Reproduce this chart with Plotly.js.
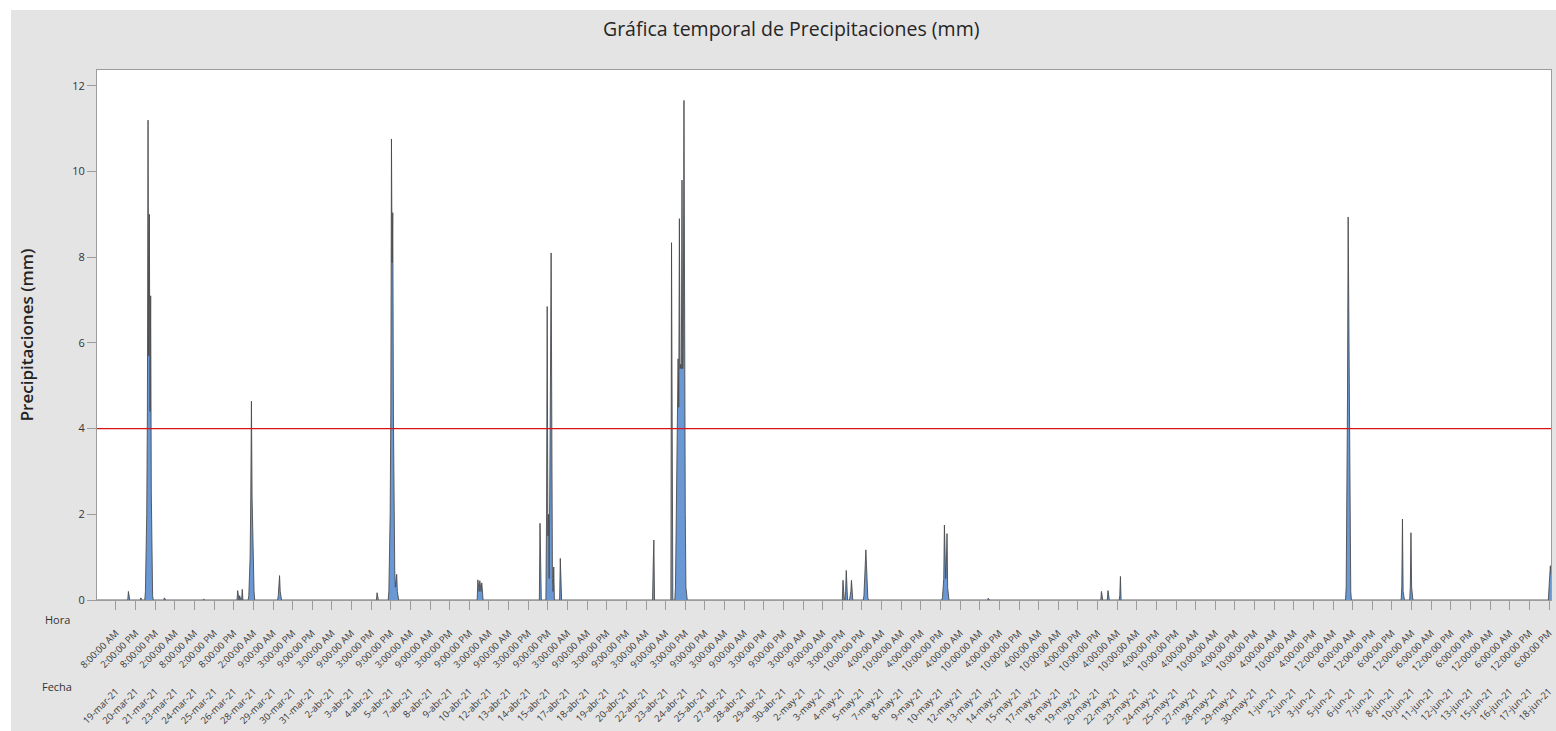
<!DOCTYPE html>
<html>
<head>
<meta charset="utf-8">
<script src="https://cdn.plot.ly/plotly-3.0.1.min.js"></script>
<style>
  html, body { margin: 0; padding: 0; background: #ffffff; width: 1556px; height: 731px; overflow: hidden; }
  #chart { position: absolute; left: 11px; top: 10px; width: 1545px; height: 721px; }
</style>
</head>
<body>
<div id="chart"></div>
<script>
const titulo = "Gráfica temporal de Precipitaciones (mm)";
const ejeY = "Precipitaciones (mm)";
const umbral = 4;
const totalObs = 2223;
const pasoTicks = 30; // one tick label every 30 observations

// non-zero hourly readings (observation index, mm); every other hour is 0
const obsIdx = [49, 68,
  75, 76, 77, 78, 79, 80, 81, 82, 83, 84, 85, 86,
  104, 164, 216, 219, 223,
  233, 234, 235, 236, 237, 238, 239, 240, 241,
  278, 279, 280, 281,
  429,
  447, 448, 449, 450, 451, 452, 453, 454, 455, 456, 457, 458, 459, 460,
  583, 584, 585, 586, 587, 588, 589, 590,
  678,
  688, 689, 690, 691, 692, 693, 694, 695, 696, 697, 698, 699,
  709,
  851, 852,
  879,
  885, 886, 887, 888, 889, 890, 891, 892, 893, 894, 895, 896, 897, 898, 899, 900, 901,
  1141, 1142, 1145, 1146, 1147, 1152, 1153, 1154,
  1173, 1174, 1175, 1176, 1177, 1178, 1179,
  1293, 1294, 1295, 1296, 1297, 1298, 1299, 1300, 1301, 1302,
  1363, 1536, 1546, 1564, 1565,
  1910, 1911, 1912, 1913, 1914, 1915, 1916, 1917,
  1952,
  1995, 1996, 1997,
  2008, 2009, 2010,
  2220, 2221, 2222, 2223];
const precipMm = [0.20, 0.05,
  0.2, 0.8, 2.0, 4.4, 11.2, 5.7, 9.0, 4.4, 7.1, 2.5, 0.6, 0.1,
  0.05, 0.02, 0.22, 0.1, 0.25,
  0.1, 0.4, 1.0, 2.4, 4.64, 2.4, 1.5, 0.6, 0.2,
  0.1, 0.3, 0.57, 0.2,
  0.17,
  0.2, 0.9, 2.0, 4.3, 10.76, 7.87, 9.04, 4.27, 2.0, 0.7, 0.3, 0.55, 0.6, 0.2,
  0.47, 0.3, 0.2, 0.45, 0.35, 0.2, 0.4, 0.1,
  1.79,
  2.0, 6.85, 1.5, 2.0, 0.5, 2.0, 5.2, 8.1, 2.0, 0.5, 0.2, 0.77,
  0.97,
  0.82, 1.40,
  8.34,
  0.3, 1.5, 3.0, 4.0, 5.63, 4.5, 8.9, 5.4, 5.5, 5.4, 9.8, 5.4, 6.0, 11.66, 5.4, 2.0, 0.3,
  0.46, 0.1, 0.2, 0.69, 0.1, 0.1, 0.2, 0.46,
  0.1, 0.4, 0.8, 1.17, 0.8, 0.3, 0.05,
  0.05, 0.29, 0.5, 1.75, 0.83, 0.5, 0.83, 1.55, 0.29, 0.05,
  0.04, 0.2, 0.22, 0.1, 0.55,
  0.3, 2.0, 4.69, 8.94, 7.07, 4.69, 1.5, 0.2,
  0.01,
  0.3, 1.89, 0.2,
  0.3, 1.57, 0.3,
  0.3, 0.8, 0.8, 0.6];

const hora = [
  "8:00:00 AM","2:00:00 PM","8:00:00 PM","2:00:00 AM","8:00:00 AM","2:00:00 PM","8:00:00 PM","2:00:00 AM",
  "9:00:00 AM","3:00:00 PM","9:00:00 PM","3:00:00 AM","9:00:00 AM","3:00:00 PM","9:00:00 PM","3:00:00 AM",
  "9:00:00 AM","3:00:00 PM","9:00:00 PM","3:00:00 AM","9:00:00 AM","3:00:00 PM","9:00:00 PM","3:00:00 AM",
  "9:00:00 AM","3:00:00 PM","9:00:00 PM","3:00:00 AM","9:00:00 AM","3:00:00 PM","9:00:00 PM","3:00:00 AM",
  "9:00:00 AM","3:00:00 PM","9:00:00 PM","3:00:00 AM","9:00:00 AM","3:00:00 PM",
  "10:00:00 PM","4:00:00 AM","10:00:00 AM","4:00:00 PM","10:00:00 PM","4:00:00 AM","10:00:00 AM","4:00:00 PM",
  "10:00:00 PM","4:00:00 AM","10:00:00 AM","4:00:00 PM","10:00:00 PM","4:00:00 AM","10:00:00 AM","4:00:00 PM",
  "10:00:00 PM","4:00:00 AM","10:00:00 AM","4:00:00 PM","10:00:00 PM","4:00:00 AM","10:00:00 AM","4:00:00 PM",
  "12:00:00 AM","6:00:00 AM","12:00:00 PM","6:00:00 PM","12:00:00 AM","6:00:00 AM","12:00:00 PM","6:00:00 PM",
  "12:00:00 AM","6:00:00 AM","12:00:00 PM","6:00:00 PM"];
const fecha = [
  "19-mar-21","20-mar-21","21-mar-21","23-mar-21","24-mar-21","25-mar-21","26-mar-21","28-mar-21","29-mar-21","30-mar-21","31-mar-21",
  "2-abr-21","3-abr-21","4-abr-21","5-abr-21","7-abr-21","8-abr-21","9-abr-21","10-abr-21","12-abr-21","13-abr-21","14-abr-21","15-abr-21",
  "17-abr-21","18-abr-21","19-abr-21","20-abr-21","22-abr-21","23-abr-21","24-abr-21","25-abr-21","27-abr-21","28-abr-21","29-abr-21","30-abr-21",
  "2-may-21","3-may-21","4-may-21","5-may-21","7-may-21","8-may-21","9-may-21","10-may-21","12-may-21","13-may-21","14-may-21","15-may-21",
  "17-may-21","18-may-21","19-may-21","20-may-21","22-may-21","23-may-21","24-may-21","25-may-21","27-may-21","28-may-21","29-may-21","30-may-21",
  "1-jun-21","2-jun-21","3-jun-21","5-jun-21","6-jun-21","7-jun-21","8-jun-21","10-jun-21","11-jun-21","12-jun-21","13-jun-21",
  "15-jun-21","16-jun-21","17-jun-21","18-jun-21"];

// ---- build the hourly series ----
const xs = [], ys = [];
const lookup = {};
obsIdx.forEach((o, k) => { lookup[o] = precipMm[k]; });
for (let i = 1; i <= totalObs; i++) { xs.push(i); ys.push(lookup[i] !== undefined ? lookup[i] : 0); }
const tickPos = hora.map((_, k) => pasoTicks * (k + 1));
const xRange = [1, totalObs];

const gris = '#9c9c9c';
const fuente = '"Open Sans", "Noto Sans", sans-serif';
const trazas = [
  {
    x: xs, y: ys, type: 'scatter', mode: 'lines',
    fill: 'tozeroy', fillcolor: 'rgb(106,152,212)',
    line: { color: 'rgba(70,70,70,0.85)', width: 1 },
    hoverinfo: 'x+y', showlegend: false
  },
  {
    x: xRange, y: [umbral, umbral], xaxis: 'x2', yaxis: 'y',
    type: 'scatter', mode: 'lines',
    line: { color: 'rgb(214,20,20)', width: 1.3 },
    hoverinfo: 'skip', showlegend: false
  }
];

const layout = {
  width: 1545, height: 721,
  paper_bgcolor: '#e4e4e4', plot_bgcolor: '#ffffff',
  margin: { l: 86, r: 5, t: 60, b: 55 },
  font: { family: fuente, color: '#333333' },
  title: {
    text: titulo, xref: 'container', yref: 'container',
    x: 0.505, xanchor: 'center', y: 0.974, yanchor: 'middle',
    font: { size: 19.5, color: '#262626', family: fuente }
  },
  xaxis: {
    range: xRange, showgrid: false, zeroline: false,
    showline: true, linecolor: gris, linewidth: 1, mirror: true,
    ticks: 'outside', ticklen: 9, tickcolor: gris, tickwidth: 1,
    tickmode: 'array', tickvals: tickPos, ticktext: hora,
    tickangle: -45, ticklabelstandoff: 14, ticklabeloverflow: 'allow',
    tickfont: { size: 9.5, color: '#3a3a3a' },
    anchor: 'y'
  },
  xaxis2: {
    range: xRange, overlaying: 'x', anchor: 'free', position: 0, side: 'bottom',
    showgrid: false, zeroline: false, showline: false, ticks: '',
    tickmode: 'array', tickvals: tickPos, ticktext: fecha,
    tickangle: -45, ticklabelstandoff: 7, ticklabeloverflow: 'allow',
    tickfont: { size: 9.5, color: '#3a3a3a' }
  },
  yaxis: {
    domain: [0.1254, 1], range: [0, 12.37],
    showgrid: false, zeroline: false,
    showline: true, linecolor: gris, linewidth: 1, mirror: true,
    ticks: 'outside', ticklen: 9, tickcolor: gris,
    tickmode: 'array', tickvals: [0, 2, 4, 6, 8, 10, 12],
    tickfont: { size: 11, color: '#333333' },
    title: { text: ejeY, standoff: 34, font: { size: 17, color: '#222222', family: fuente, weight: 600 } }
  },
  annotations: [
    { text: 'Hora', xref: 'paper', yref: 'paper', x: -0.0274, y: 0.094, xanchor: 'center', yanchor: 'middle', showarrow: false, font: { size: 11, color: '#333333' } },
    { text: 'Fecha', xref: 'paper', yref: 'paper', x: -0.0274, y: -0.018, xanchor: 'center', yanchor: 'middle', showarrow: false, font: { size: 11, color: '#333333' } }
  ]
};

Plotly.newPlot('chart', trazas, layout, { displayModeBar: false, staticPlot: true });
</script>
</body>
</html>
